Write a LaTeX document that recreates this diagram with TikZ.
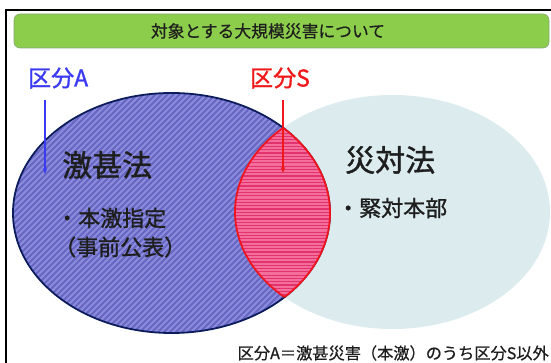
\documentclass[tikz,border=0pt]{standalone}
\usepackage{fontspec}
\setmainfont{Noto Sans CJK JP}
\newfontfamily\jpmed[FakeBold=1.2]{Noto Sans CJK JP}
\newfontfamily\jpsemi[FakeBold=0.6]{Noto Sans CJK JP}
\definecolor{barGreen}{HTML}{8CCD4B}
\definecolor{barEdge}{HTML}{86A878}
\definecolor{lightSet}{HTML}{DCECEE}
\definecolor{blueBase}{HTML}{8C8CDE}
\definecolor{blueStripe}{HTML}{6767C2}
\definecolor{navyEdge}{HTML}{0C1C5C}
\definecolor{pinkBase}{HTML}{F36E9A}
\definecolor{pinkStripe}{HTML}{E2336E}
\definecolor{redEdge}{HTML}{F0141E}
\definecolor{labBlue}{HTML}{3A3AF2}
\definecolor{labRed}{HTML}{F01818}
\definecolor{txt}{HTML}{1E1E1E}
\usetikzlibrary{arrows.meta}
\tikzset{
  lbl/.style={inner sep=0pt, anchor=west, text=txt},
  bigtxt/.style={lbl, font=\jpmed\fontsize{30}{32}\selectfont},
  midtxt/.style={lbl, font=\jpmed\fontsize{22}{24}\selectfont},
  kubun/.style={inner sep=0pt, anchor=west, font=\jpmed\fontsize{23}{25}\selectfont},
  pointer/.style={line width=1.1pt, -{Stealth[length=6pt,width=4.5pt]}},
}
\begin{document}
\begin{tikzpicture}[x=1pt,y=-1pt]
\useasboundingbox (0,0) rectangle (551,363);
\fill[white] (0,0) rectangle (551,363);
% frame
\draw[line width=1.8pt, black] (552,10) -- (6,10) -- (6,364);
% title bar
\draw[fill=barGreen, draw=barEdge, line width=0.6pt, rounded corners=6pt] (14,14) rectangle (549,48);
\node[inner sep=0pt, text=txt, font=\jpsemi\fontsize{16.8}{18}\selectfont] (title) at (268,31) {対象とする大規模災害について};
% light ellipse (災対法)
\fill[lightSet] (392.5,212) ellipse [x radius=157.5pt, y radius=117pt];
% blue ellipse (激甚法)
\begin{scope}
  \clip (171.5,213) ellipse [x radius=158.5pt, y radius=120pt];
  \fill[blueBase] (0,80) rectangle (340,340);
  \foreach \i in {-300,-294,...,360} {
    \draw[blueStripe, line width=1.9pt] (\i,340) -- ++(260,-260);
  }
\end{scope}
\draw[navyEdge, line width=1.8pt] (171.5,213) ellipse [x radius=158.5pt, y radius=120pt];
% lens (区分S)
\begin{scope}
  \clip (171.5,213) ellipse [x radius=158.5pt, y radius=120pt];
  \clip (392.5,212) ellipse [x radius=157.5pt, y radius=117pt];
  \fill[pinkBase] (220,120) rectangle (340,305);
  \foreach \j in {120,123.3,...,305} {
    \draw[pinkStripe, line width=1.2pt] (220,\j) -- (340,\j);
  }
\end{scope}
\begin{scope}
  \clip (171.5,213) ellipse [x radius=158.5pt, y radius=120pt];
  \draw[redEdge, line width=1.8pt] (392.5,212) ellipse [x radius=157.5pt, y radius=117pt];
\end{scope}
\begin{scope}
  \clip (392.5,212) ellipse [x radius=157.5pt, y radius=117pt];
  \draw[redEdge, line width=1.8pt] (171.5,213) ellipse [x radius=158.5pt, y radius=120pt];
\end{scope}
% labels
\node[kubun, text=labBlue] (kA) at (28,78) {区分A};
\node[kubun, text=labRed] (kS) at (250,78) {区分S};
\coordinate (aTop) at (45,100);
\coordinate (aTip) at (45,174);
\coordinate (sTop) at (283,100);
\coordinate (sTip) at (283,173);
\draw[pointer, draw=labBlue, fill=labBlue] (aTop) -- (aTip);
\draw[pointer, draw=labRed, fill=labRed] (sTop) -- (sTip);
% texts
\node[bigtxt] (gekijin) at (62,165) {激甚法};
\node[midtxt] (honge) at (56,218) {・本激指定};
\node[midtxt] (jizen) at (54,247) {（事前公表）};
\node[bigtxt] (saitai) at (345,160) {災対法};
\node[midtxt] (kintai) at (337,208) {・緊対本部};
\node[inner sep=0pt, anchor=east, text=txt, font=\jpsemi\fontsize{16.2}{18}\selectfont] (note) at (549,353) {区分A＝激甚災害（本激）のうち区分S以外};
\end{tikzpicture}
\end{document}
